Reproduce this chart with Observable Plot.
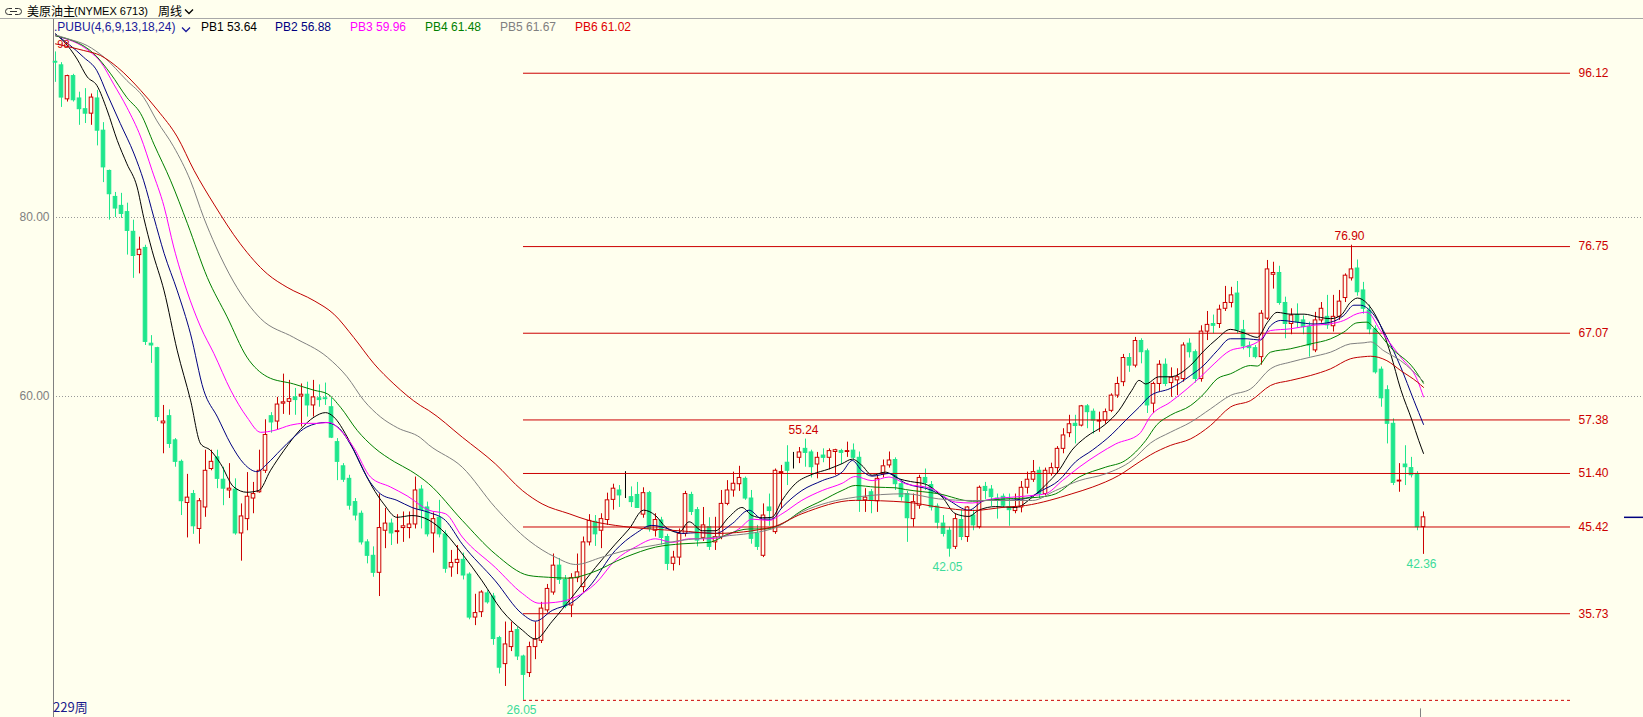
<!DOCTYPE html>
<html><head><meta charset="utf-8">
<script src="https://cdn.jsdelivr.net/npm/d3@7"></script>
<script src="https://cdn.jsdelivr.net/npm/@observablehq/plot@0.6"></script>
<style>
html,body{margin:0;padding:0;background:#FFFFEE;}
#wrap{position:relative;width:1643px;height:717px;overflow:hidden;background:#FFFFEE;font-family:"Liberation Sans",Arial,sans-serif;}
.abs{position:absolute;white-space:nowrap;line-height:16px;font-size:12px;}
.cjk{font-family:"Noto Sans CJK SC","Liberation Sans",sans-serif;}
#chart{position:absolute;left:0;top:19px;}
</style></head><body>
<div id="wrap">
  <div id="chart"></div>
  <svg class="abs" style="left:5px;top:7px" width="17" height="9"><path d="M7,1.5H3.5a3,3 0 0 0 0,6H7M10,1.5H13.5a3,3 0 0 1 0,6H10M5,4.5H12" fill="none" stroke="#333" stroke-width="1"/></svg>
  <div class="abs cjk" style="left:27px;top:3px;color:#000;">美原油主</div>
  <div class="abs" style="left:74px;top:3px;font-size:11px;color:#000;">(NYMEX 6713)</div>
  <div class="abs cjk" style="left:158px;top:3px;color:#000;">周线</div>
  <svg class="abs" style="left:184px;top:8px" width="11" height="8"><polyline points="1,1.5 5,5.5 9,1.5" fill="none" stroke="#000" stroke-width="1.3"/></svg>
  <div class="abs" style="left:0;top:18px;width:1643px;height:1px;background:#A8A8A8;"></div>
  <div class="abs" style="left:54px;top:19px;color:#1a1a9a;">.PUBU(4,6,9,13,18,24)</div>
  <svg class="abs" style="left:181px;top:26px" width="11" height="8"><polyline points="1,1.5 5,5.5 9,1.5" fill="none" stroke="#1a1a9a" stroke-width="1.3"/></svg>
  <div class="abs" style="left:201px;top:19px;color:#000000;">PB1 53.64</div>
  <div class="abs" style="left:275px;top:19px;color:#000080;">PB2 56.88</div>
  <div class="abs" style="left:350px;top:19px;color:#FF00FF;">PB3 59.96</div>
  <div class="abs" style="left:425px;top:19px;color:#008000;">PB4 61.48</div>
  <div class="abs" style="left:500px;top:19px;color:#808080;">PB5 61.67</div>
  <div class="abs" style="left:575px;top:19px;color:#E00000;">PB6 61.02</div>
  <div class="abs cjk" style="left:53px;top:699px;font-size:13px;color:#1a1a8c;">229周</div>
</div>
<script>
// ---- weekly candles (index 0..228) ----
const opens = [97.4,97.0,93.2,95.8,93.3,92.1,91.6,93.3,89.7,85.2,82.3,81.3,80.6,78.4,75.8,76.6,65.9,65.4,57.0,57.8,
55.1,52.7,48.1,49.1,45.2,47.6,51.9,53.2,50.7,49.5,49.6,44.7,46.3,48.6,49.3,51.7,57.8,57.2,59.2,59.4,
59.9,60.0,60.2,59.0,59.8,59.8,58.8,54.9,52.2,50.8,48.2,46.9,43.7,42.2,40.3,45.0,45.8,44.85,45.3,45.3,
45.7,49.6,47.6,44.7,46.45,44.6,40.9,41.4,41.75,40.1,35.3,35.9,38.0,37.65,33.0,30.1,32.0,33.9,30.95,29.1,
32.0,32.7,36.1,38.1,41.1,39.5,36.65,39.7,38.7,43.7,46.0,45.0,46.2,48.45,49.5,48.75,48.75,49.0,46.8,49.2,
45.0,46.15,44.3,41.3,42.0,44.65,49.0,47.3,44.2,45.4,43.7,44.3,48.0,49.5,50.2,50.8,48.6,44.65,42.2,47.6,
44.85,51.45,52.6,53.2,53.15,54.15,53.75,52.4,53.4,53.15,53.8,53.9,53.8,53.95,53.15,48.4,49.3,48.3,51.3,52.3,
52.9,50.2,49.1,46.3,47.8,50.9,50.1,47.7,45.8,45.0,43.2,46.2,44.3,46.7,45.4,49.9,49.6,48.6,48.8,47.6,
47.2,47.6,49.8,50.7,51.7,49.1,51.35,52.0,54.15,55.9,56.95,56.75,58.9,58.3,57.2,57.3,58.4,60.1,61.6,64.3,
63.45,66.2,65.05,59.2,61.4,63.55,61.5,61.8,61.95,65.9,64.95,61.95,67.25,68.1,68.1,69.8,70.45,71.5,67.4,65.6,
65.4,64.4,68.7,73.6,73.8,70.45,68.1,69.1,68.5,67.75,65.15,68.5,68.9,67.85,68.9,71.0,73.2,74.3,71.85,69.6,
67.5,63.0,60.7,56.95,50.5,52.4,52.0,51.35,45.4];
const highs = [98.5,97.3,95.9,96.0,94.0,94.4,93.8,94.2,90.6,85.3,82.8,82.7,81.6,79.7,77.8,76.9,66.8,65.5,59.0,58.5,
55.3,52.9,51.3,49.5,48.6,54.0,54.0,54.0,52.1,52.5,50.8,48.0,51.5,50.4,54.0,57.4,58.2,59.9,62.5,61.8,
60.9,61.4,61.6,61.8,61.3,61.5,59.8,55.3,52.5,51.2,48.6,47.2,44.0,43.2,49.1,47.5,46.3,46.8,47.1,47.1,
51.0,50.05,48.2,47.0,48.4,45.0,42.8,43.35,42.5,40.3,37.9,38.3,38.3,38.0,33.2,34.8,34.8,34.2,31.1,32.55,
34.8,37.0,39.0,42.4,41.9,40.0,40.2,42.4,44.3,46.8,46.7,46.9,49.2,50.2,50.05,51.6,49.9,50.4,49.8,49.4,
46.9,46.5,44.6,42.7,45.2,49.4,49.3,47.6,47.6,46.45,46.5,49.5,50.6,51.55,52.2,51.0,49.5,45.6,48.0,49.1,
51.9,52.3,54.5,53.75,54.3,55.24,54.0,53.75,54.15,54.15,54.1,54.1,54.9,54.7,53.8,49.7,49.6,51.1,52.9,53.8,
53.15,50.5,49.4,49.1,51.2,51.9,50.5,48.0,46.7,45.4,46.9,47.3,47.7,47.3,50.0,50.4,50.05,49.1,49.1,49.1,
49.1,50.5,51.55,52.85,52.1,52.0,52.55,54.4,56.4,57.9,57.9,59.0,59.1,58.6,58.25,58.6,60.3,62.15,64.7,64.8,
66.6,66.45,65.3,61.6,64.0,64.2,63.2,63.1,66.0,66.45,65.2,67.9,69.5,69.1,70.2,72.3,72.2,72.85,68.5,66.1,
65.7,69.6,75.2,75.0,74.55,71.1,69.8,70.35,69.0,68.3,69.4,70.5,71.3,71.3,71.85,73.7,76.9,75.25,72.75,70.2,
67.9,63.3,61.2,57.5,52.5,54.5,53.2,51.6,47.1];
const lows = [95.1,92.3,92.9,92.9,90.3,90.5,90.3,88.0,83.9,79.7,80.0,79.9,75.8,73.2,73.7,65.7,63.7,57.2,53.6,54.2,
52.1,46.7,44.2,44.6,43.5,46.5,51.7,49.7,47.8,48.6,44.5,41.6,45.0,46.9,49.2,51.4,55.9,56.2,58.0,57.9,
57.9,56.6,57.7,57.7,58.8,59.0,55.3,50.6,50.4,47.3,46.1,43.4,41.3,39.8,37.65,43.0,43.35,43.5,43.7,44.1,
45.2,45.2,44.3,42.5,44.2,40.25,39.8,40.1,39.5,35.05,34.4,35.3,36.8,32.2,29.0,27.6,31.5,30.5,26.05,28.6,
30.6,32.4,35.8,37.8,39.0,36.3,35.3,39.2,38.1,43.3,43.25,43.0,45.6,47.3,47.6,48.6,47.6,47.5,46.4,44.85,
44.3,43.4,40.55,40.5,41.1,44.3,46.7,43.2,43.8,42.8,42.8,44.0,47.8,48.75,49.4,48.4,43.5,42.8,42.0,45.5,
44.6,47.45,50.05,51.9,52.5,52.1,50.9,50.8,52.6,51.8,51.2,52.4,53.2,52.9,47.05,47.05,46.9,47.05,50.9,52.0,
49.5,48.3,43.7,45.4,47.4,49.5,47.2,45.2,44.3,42.05,42.9,43.9,43.7,45.0,45.2,48.5,47.7,46.3,47.6,45.5,
46.9,47.0,49.1,50.4,48.6,48.9,51.1,51.3,53.6,55.4,54.7,56.6,56.4,55.8,56.0,56.9,58.2,59.8,61.1,62.7,
63.2,63.65,58.1,58.1,60.5,61.1,59.9,60.1,61.6,64.3,61.5,61.6,66.25,67.0,67.6,69.5,69.9,67.0,65.2,64.35,
64.2,63.5,68.5,72.0,70.2,66.45,66.9,67.6,66.9,64.4,64.9,68.2,67.5,67.2,68.5,70.5,72.9,71.2,69.2,66.9,
62.5,58.8,54.7,50.05,49.3,50.05,50.9,45.0,42.36];
const closes = [97.3,93.4,95.8,93.1,92.1,91.6,93.4,89.7,85.6,82.6,81.0,80.4,78.5,75.7,76.4,66.1,65.7,57.7,57.2,54.7,
52.7,48.3,48.7,45.5,48.3,51.7,52.7,50.8,49.7,49.7,44.7,46.6,48.8,49.1,51.7,55.7,57.1,59.1,59.35,59.7,
59.6,60.2,59.0,59.9,59.6,59.7,55.4,52.7,50.7,47.8,46.7,43.7,42.2,40.3,45.3,45.8,44.7,44.95,45.5,45.7,
49.5,47.3,44.6,46.3,44.6,40.75,41.4,41.75,40.0,35.3,35.8,38.1,37.0,32.9,29.7,32.3,33.7,30.95,28.9,32.0,
32.85,36.3,38.5,41.1,39.5,36.55,39.7,40.35,43.7,46.1,44.6,46.3,48.4,49.7,48.95,48.75,48.2,47.55,49.2,45.2,
46.2,44.2,41.3,42.0,44.65,49.1,47.1,43.9,45.6,43.2,44.3,48.0,49.5,50.25,50.9,48.6,44.1,43.2,46.7,47.2,
51.7,51.55,51.7,53.2,53.75,53.7,52.1,53.15,53.15,53.9,54.0,53.7,53.9,53.15,48.4,48.7,48.4,50.8,52.2,52.85,
50.2,48.75,46.4,48.2,50.9,50.35,47.6,45.9,44.65,43.0,46.3,44.3,47.6,45.6,49.8,49.45,48.75,48.4,47.8,47.3,
47.6,49.8,50.7,51.55,49.1,51.7,52.0,54.15,55.65,56.9,56.7,58.9,58.25,57.3,57.3,58.25,60.1,61.4,64.3,63.45,
66.2,64.95,59.0,61.4,63.55,61.4,62.1,62.15,65.7,64.95,61.95,67.25,68.0,67.9,69.7,70.45,71.3,67.4,65.6,65.4,
64.4,69.25,74.2,73.8,70.45,68.1,69.05,68.3,67.75,65.7,68.5,69.8,67.95,68.9,70.6,73.5,74.2,71.65,69.8,67.5,
62.7,59.8,56.95,50.35,50.6,52.1,51.2,45.4,46.5];

// ---- PUBU waterfall lines, [week index, value] ----
const pb1 = [[0,100.5],[1.5,99.6],[3.6,97.7],[5.3,95.7],[6.9,94.75],[8.6,92.0],[10.3,88.6],[11.9,86.0],[13.6,83.4],[14.7,80.0],[16.1,76.3],[18.1,71.8],[20.3,65.1],[22.5,59.6],[24.2,54.7],[25.8,54.0],[27.5,52.5],[29.7,49.9],[31.9,49.3],[33.9,49.5],[35.8,51.7],[38.1,54.0],[40.8,56.3],[43.1,57.7],[45.0,58.2],[46.4,57.7],[48.6,55.5],[50.8,52.5],[52.8,49.9],[54.7,48.0],[56.9,46.5],[59.4,46.7],[62.2,46.2],[65,44.7],[67.8,42.4],[71.1,39.4],[74.4,36.1],[77.8,33.9],[80,32.9],[82.8,34.9],[86.1,37.6],[90,40.9],[93.3,43.5],[95.6,45.2],[98,47.3],[100,46.7],[101.7,45.4],[103.9,44.8],[105.6,46.0],[107.8,45.0],[110,45.0],[112.2,46.5],[114.4,47.6],[116.1,46.7],[117.8,46.45],[119.4,46.5],[121.1,48.4],[123.3,50.25],[126.1,51.3],[128.9,51.9],[131.1,52.5],[132.8,53.0],[134.4,52.3],[136.1,51.2],[138.3,51.55],[140.6,50.8],[142.5,50.5],[145,50.2],[147.8,48.75],[150,46.9],[152.2,46.6],[153.9,47.3],[156.7,47.7],[160,47.6],[162.8,48.75],[165,50.1],[167.2,51.7],[169.4,54.0],[171.7,55.45],[175,56.9],[177.2,58.4],[179.4,60.7],[180.6,61.8],[181.7,61.4],[183.9,62.2],[185.8,62.2],[189.2,63.5],[191.4,65.1],[193.6,66.45],[195.8,67.5],[198.1,67.1],[200.3,66.6],[202,68.3],[203.6,69.4],[205.8,69.2],[208.1,69.2],[210.3,68.9],[212.5,68.7],[214.2,69.05],[215.8,70.5],[217,71.0],[218.6,70.4],[220.3,68.7],[221.4,67.0],[222.5,64.8],[224.2,60.8],[226.1,57.3],[227.2,55.1],[228,53.64]];
const pb2 = [[0,100.5],[4.7,97.9],[6.9,96.4],[8.6,93.8],[10.8,90.5],[13.1,87.1],[14.7,84.1],[16.4,80.0],[18.1,76.0],[20.3,71.8],[22.5,67.0],[24.7,60.7],[27.0,57.7],[29.2,54.7],[31.4,52.5],[33.6,51.6],[35.3,52.5],[37.5,54.0],[39.7,55.45],[41.9,56.6],[45.0,57.1],[47.0,56.6],[49.7,54.0],[51.9,51.0],[54.2,49.1],[56.9,48.4],[59.4,47.6],[62.2,47.05],[65,46.15],[67.8,43.5],[73.3,39.4],[77.8,35.7],[80,34.9],[82.8,36.1],[86.1,37.0],[88.9,38.7],[93.3,42.8],[96.7,44.7],[99.4,45.6],[102.2,45.2],[104.4,44.7],[107.2,44.8],[110,44.7],[112.8,45.8],[115.6,47.3],[117.8,46.3],[119.4,46.3],[121.1,47.6],[124.4,49.5],[127.8,50.6],[131.1,51.55],[132.8,52.85],[134.4,51.7],[136.1,51.1],[138.9,51.4],[141.7,50.3],[146.1,49.5],[148.9,48.4],[152.2,47.3],[155,48.4],[158.3,48.4],[161.7,48.6],[164.4,49.5],[167.2,50.6],[170,52.7],[172.8,54.0],[176.1,55.8],[178.3,57.3],[180.6,58.8],[182.5,60.1],[185.8,60.9],[189.2,62.35],[191.4,63.5],[193.6,65.1],[195.8,66.45],[198.6,66.45],[200.8,66.3],[202.5,67.9],[204.2,68.5],[206.9,68.3],[209.7,68.1],[212.5,68.3],[214.7,69.05],[216.4,70.2],[217.5,70.2],[219.5,69.3],[221.9,66.6],[224.2,63.3],[226.4,59.55],[228,56.88]];
const pb3 = [[0,100.3],[5.8,98.5],[7.5,97.4],[9.7,94.9],[11.9,92.3],[14.2,89.0],[16.1,85.25],[18.1,81.2],[19.7,76.7],[21.9,71.8],[24.2,67.75],[26.4,64.8],[29.2,60.7],[31.9,57.7],[34.2,56.0],[36.4,56.2],[39.2,56.8],[41.4,57.0],[43.6,57.0],[45.6,57.1],[47.5,56.2],[49.7,54.3],[52.5,51.0],[55.8,49.9],[58.6,48.9],[62.2,47.3],[65,46.9],[67.8,44.3],[73.3,40.9],[77.8,38.0],[80.6,36.9],[83.3,37.0],[86.7,37.6],[90,39.1],[93.3,41.7],[96.7,43.2],[100,44.1],[102.8,43.7],[105.6,44.1],[108.3,44.1],[111.1,44.3],[113.9,45.2],[116.1,46.3],[118.9,46.15],[121.1,46.9],[124.4,48.4],[127.8,49.5],[131.1,50.3],[133.3,51.06],[136.1,50.6],[138.9,51.0],[141.7,50.25],[146.1,49.7],[150,48.2],[152.8,48.1],[156.1,48.56],[159.4,48.75],[162.8,48.94],[165,49.13],[167.8,50.6],[170.6,52.1],[173.9,53.6],[176.7,54.7],[180.6,55.8],[182.6,57.9],[185.8,59.37],[188.6,60.86],[190.8,62.16],[193.1,63.65],[195.8,65.14],[198.1,65.51],[200.3,66.07],[202.5,67.37],[205.8,67.56],[209.2,67.93],[212.5,68.12],[214.7,68.49],[216.9,69.24],[218.6,69.42],[220.8,67.4],[224.2,64.4],[227,61.8],[228,59.96]];
const pb4 = [[0,100.3],[6.4,98.3],[9.2,96.05],[11.9,93.4],[14.2,91.6],[16.4,88.2],[19.2,84.1],[22.0,79.3],[25.3,73.3],[28.6,68.9],[31.9,64.4],[35.3,62.2],[39.7,61.4],[43.1,60.7],[45.3,60.3],[47.5,58.8],[50.3,56.2],[53.1,54.3],[56.5,52.7],[59.2,51.7],[62.2,50.25],[67.8,46.15],[73.3,42.4],[78.9,40.0],[82.2,39.8],[85.6,39.7],[88.9,40.2],[95,42.05],[100,43.17],[104.4,43.54],[108.9,43.7],[112.2,44.66],[115.6,45.2],[118.3,45.2],[121.1,45.77],[124.4,47.26],[127.8,48.38],[131.1,49.5],[133.3,50.06],[136.7,49.87],[140,49.8],[141.7,49.6],[147.2,49.13],[152.8,48.3],[158.3,48.56],[163.9,48.75],[166.7,49.13],[170.6,51.0],[175,52.1],[178.3,52.85],[181.7,55.08],[183.5,56.8],[185.8,57.9],[189.2,59.0],[191.4,60.3],[193.6,61.97],[195.8,62.53],[199.2,63.46],[200.3,63.4],[202.5,64.95],[205.8,65.33],[209.2,65.88],[212.5,66.44],[214.7,67.19],[216.9,68.23],[218.6,68.31],[219.7,67.7],[222.5,65.5],[226.4,63.1],[228,61.48]];
const pb5 = [[0,100.4],[1.9,100.0],[5.3,99.2],[8.1,97.9],[11.9,95.3],[14.7,93.4],[16.9,90.8],[19.7,87.9],[22.5,84.1],[24.7,80.0],[26.7,76.8],[29.7,72.8],[34.2,68.7],[39.7,66.6],[45.3,64.4],[48.6,62.2],[51.4,59.55],[54.2,57.7],[57,56.5],[60.8,55.4],[62.2,54.6],[67.8,52.1],[73.3,47.6],[78.9,43.9],[83.3,42.05],[86.7,41.23],[91.1,42.05],[95,42.8],[100,43.4],[104,43.9],[110,44.3],[119.4,45.2],[124.4,47.1],[133.3,48.75],[141.7,49.13],[147.2,48.56],[152.8,48.38],[162.8,48.38],[166.7,49.5],[170.6,50.6],[175,51.36],[179.4,52.85],[182.5,54.8],[185.8,56.0],[189.2,57.13],[192.5,58.62],[195.8,60.11],[199.2,60.86],[202.5,63.09],[205.8,63.84],[209.2,64.4],[212.5,64.95],[215.8,65.88],[218.1,66.0],[219.2,66.1],[221.4,65.1],[224.2,64.0],[228,61.67]];
const pb6 = [[0,99.4],[4.7,98.66],[7.5,98.1],[10.3,96.8],[14.2,94.2],[17.0,92.0],[20.3,89.0],[23.1,85.25],[26.4,81.5],[30.8,77.06],[35.3,73.7],[38.6,72.2],[43.1,70.7],[46.4,69.2],[49.7,66.6],[53.1,63.65],[56.4,61.4],[60.8,59.0],[62.2,58.44],[67.8,55.45],[73.3,52.48],[77.8,49.5],[81.1,48.0],[85.6,46.9],[88.9,46.15],[93.3,45.6],[99,45.2],[104,45.0],[110,44.7],[119.4,45.4],[124.4,46.9],[133.3,48.4],[141.7,48.2],[147.2,47.64],[152.8,47.26],[158.3,47.64],[161.7,47.82],[165.6,48.38],[169.4,49.13],[172.8,49.87],[177.2,51.17],[180.6,52.67],[182.5,53.48],[185.8,54.53],[189.2,55.27],[192.5,56.76],[195.8,58.81],[199.2,59.55],[202.5,61.23],[205.8,61.79],[209.2,62.35],[212.5,63.09],[215.8,64.21],[218.1,64.45],[219.2,64.5],[221.9,64.0],[224.2,62.9],[227,61.6],[228,61.02]];

// ---- levels, grid ticks, marked extremes ----
const levels = [96.12, 76.75, 67.07, 57.38, 51.40, 45.42, 35.73];
const baseLevel = 26.05;
const gridTicks = [60, 80];
const highMarks = [125, 216];
const lowMarks = [78, 149, 228];

const RED = '#CC0000', GREEN = '#1EE68C', BG = '#FFFFEE', LBLGREEN = '#3DDB9A';
const candles = opens.map((o, i) => ({i, o, h: highs[i], l: lows[i], c: closes[i]}));
const col = d => d.c > d.o ? RED : d.c < d.o ? GREEN : '#000000';
const X0 = -1/3, X1 = 264.6667, Y0 = 24.134, Y1 = 102.123;
const lowIdx = lows.indexOf(baseLevel);
const levelEnd = 252.5, labelX = 253.83;
const pbSpec = [[pb1,'#000000'],[pb2,'#000080'],[pb3,'#FF00FF'],[pb4,'#008000'],[pb5,'#808080'],[pb6,'#C00000']];

const chart = Plot.plot({
  width: 1643, height: 698,
  marginLeft: 53, marginRight: 0, marginTop: 0, marginBottom: 0,
  x: {type: 'linear', domain: [X0, X1], axis: null},
  y: {type: 'linear', domain: [Y0, Y1], axis: null},
  color: {type: 'identity'},
  style: {background: 'transparent', fontFamily: '"Liberation Sans", Arial, sans-serif', fontSize: '12px', overflow: 'visible'},
  marks: [
    Plot.gridY(gridTicks, {stroke: '#999999', strokeOpacity: 1, strokeDasharray: '1,2'}),
    Plot.text(gridTicks, {x: () => X0, y: d => d, text: d => d.toFixed(2), textAnchor: 'end', dx: -4, fill: '#808080', fontSize: 12}),
    Plot.ruleX([X0], {stroke: '#808080'}),
    Plot.ruleX(candles, {x: 'i', y1: 'l', y2: 'h', stroke: col}),
    Plot.rect(candles, {x1: d => d.i - 0.3, x2: d => d.i + 0.3, y1: d => Math.min(d.o, d.c), y2: d => Math.max(d.o, d.c), fill: d => d.c > d.o ? BG : col(d), stroke: col}),
    Plot.ruleY(levels, {x1: () => lowIdx, x2: () => levelEnd, stroke: RED}),
    Plot.ruleY([baseLevel], {x1: () => lowIdx, x2: () => levelEnd, stroke: RED, strokeDasharray: '3,3'}),
    ...pbSpec.map(([data, c]) => Plot.line(data, {x: d => d[0], y: d => d[1], stroke: c, strokeWidth: 1, curve: 'monotone-x'})),
    Plot.text(levels.concat([]), {x: () => labelX, y: d => d, text: d => d.toFixed(2), textAnchor: 'start', fill: RED, fontSize: 12}),
    Plot.text(highMarks, {x: d => d, y: d => highs[d], text: d => highs[d].toFixed(2), dy: -9, dx: -2, fill: RED, fontSize: 12}),
    Plot.text(lowMarks, {x: d => d, y: d => lows[d], text: d => lows[d].toFixed(2), dy: 10, dx: -2, fill: LBLGREEN, fontSize: 12}),
    Plot.text(['98'], {x: () => 0.3, y: () => 99.3, text: d => d, textAnchor: 'start', fill: RED, fontSize: 11}),
    Plot.ruleY([closes[closes.length - 1]], {x1: () => 261.5, x2: () => X1, stroke: '#000080', strokeWidth: 1.5}),
    Plot.ruleX([227.5], {y1: () => Y0, y2: () => 25.1, stroke: '#808080'})
  ]
});
document.getElementById('chart').appendChild(chart);
</script>
</body></html>
